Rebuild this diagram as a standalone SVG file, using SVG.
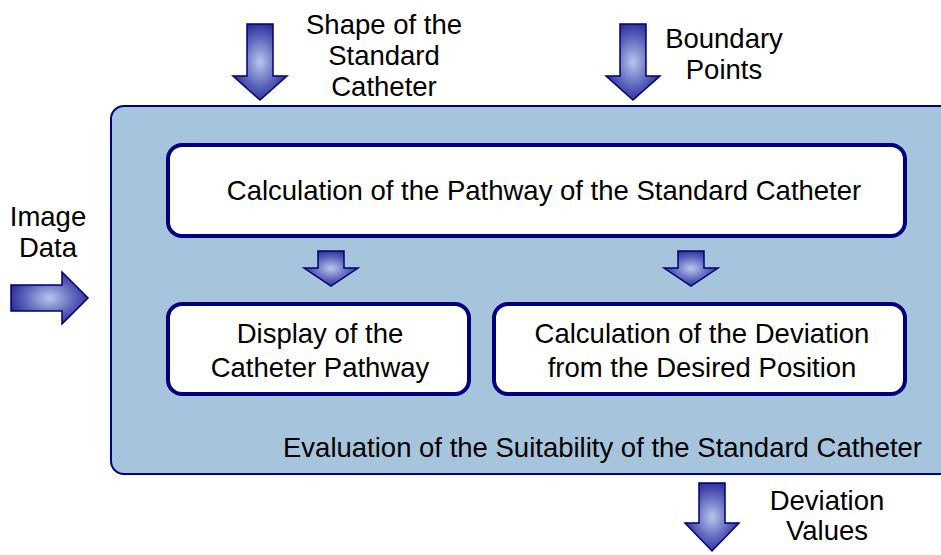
<svg xmlns="http://www.w3.org/2000/svg" width="941" height="555" viewBox="0 0 941 555">
  <defs>
    <radialGradient id="arrowFill" cx="0.5" cy="0.5" r="0.6">
      <stop offset="0" stop-color="#b9c6ec"/>
      <stop offset="0.55" stop-color="#5a63bb"/>
      <stop offset="1" stop-color="#1c1c8c"/>
    </radialGradient>
    <style>
      .panel { fill: #a7c4dd; stroke: #000080; stroke-width: 2; }
      .box { fill: #ffffff; stroke: #000080; stroke-width: 4; }
      .arrow { fill: url(#arrowFill); stroke: #000070; stroke-width: 1.5; stroke-linejoin: miter; }
      text { font-family: "Liberation Sans", Arial, sans-serif; font-size: 27.5px; fill: #000000; }
      .c { text-anchor: middle; }
    </style>
  </defs>

  <!-- Outer evaluation panel -->
  <g id="evaluation">
    <rect class="panel" x="111" y="106" width="850" height="368" rx="13" ry="13"/>
    <text x="283" y="457">Evaluation of the Suitability of the Standard Catheter</text>
  </g>

  <g id="pathway-calc">
    <rect class="box" x="168" y="145" width="737" height="91" rx="14" ry="14"/>
    <text class="c" x="544" y="200">Calculation of the Pathway of the Standard Catheter</text>
  </g>

  <g id="display">
    <rect class="box" x="168" y="304" width="301" height="90" rx="14" ry="14"/>
    <text class="c" x="320" y="343">Display of the</text>
    <text class="c" x="320" y="377">Catheter Pathway</text>
  </g>

  <g id="deviation-calc">
    <rect class="box" x="494" y="304" width="411" height="90" rx="14" ry="14"/>
    <text class="c" x="702" y="343">Calculation of the Deviation</text>
    <text class="c" x="702" y="377">from the Desired Position</text>
  </g>

  <!-- Input / output labels -->
  <g id="label-shape">
    <text class="c" x="384" y="34">Shape of the</text>
    <text class="c" x="384" y="65">Standard</text>
    <text class="c" x="384" y="96">Catheter</text>
  </g>
  <g id="label-boundary">
    <text class="c" x="724" y="48">Boundary</text>
    <text class="c" x="724" y="79">Points</text>
  </g>
  <g id="label-image">
    <text class="c" x="48" y="226">Image</text>
    <text class="c" x="48" y="257">Data</text>
  </g>
  <g id="label-deviation">
    <text class="c" x="827" y="510">Deviation</text>
    <text class="c" x="827" y="540">Values</text>
  </g>

  <!-- Block arrows -->
  <g id="connectors">
    <path class="arrow" d="M247,24 H273 V76 H287 L260,100 L233,76 H247 Z"/>
    <path class="arrow" d="M620,24 H646 V76 H660 L633,100 L606,76 H620 Z"/>
    <path class="arrow" d="M11,285 H62 V272 L88,298 L62,324 V311 H11 Z"/>
    <path class="arrow" d="M318,251 H344 V268 H358 L331,286 L304,268 H318 Z"/>
    <path class="arrow" d="M678,251 H704 V268 H718 L691,286 L664,268 H678 Z"/>
    <path class="arrow" d="M699,483 H725 V523 H739 L712,551 L685,523 H699 Z"/>
  </g>
</svg>
